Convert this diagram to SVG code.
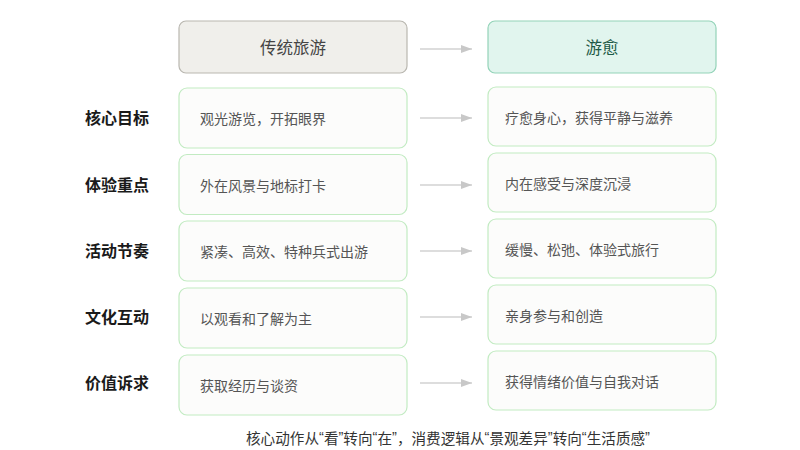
<svg xmlns="http://www.w3.org/2000/svg" width="800" height="450" viewBox="0 0 800 450">
<defs>
<marker id="ah" markerWidth="12" markerHeight="10" refX="11" refY="5" orient="auto" markerUnits="userSpaceOnUse">
<path d="M0,1 L11,5 L0,9 Z" fill="#c8c8c8"/>
</marker>
<style>
text{font-family:"Noto Sans CJK SC","Noto Sans",sans-serif}
.hl{fill:#f0efeb;stroke:#b9b7b0;stroke-width:1.2}
.hr{fill:#e1f5ee;stroke:#93d3b8;stroke-width:1.2}
.box{fill:#fcfcfb;stroke:#c2ebc2;stroke-width:1.2}
.ht{font-size:16.5px;text-anchor:middle;dominant-baseline:central}
.lab{font-size:16px;font-weight:700;fill:#1a1a1a;dominant-baseline:central}
.bt{font-size:14px;fill:#555;dominant-baseline:central}
.conn line{stroke:#d2d2d2;stroke-width:1.3;marker-end:url(#ah)}
.foot{font-size:14.6px;fill:#333;text-anchor:middle;dominant-baseline:central}
.q{font-family:"Liberation Sans",sans-serif}
</style>
</defs>
<rect width="800" height="450" fill="#ffffff"/>
<g id="h-left"><rect class="hl" x="179" y="21" width="228" height="52" rx="7"/><text class="ht" x="293" y="47" fill="#444">传统旅游</text></g>
<g id="h-right"><rect class="hr" x="488" y="21" width="228" height="52" rx="7"/><text class="ht" x="602" y="47" fill="#1d5a46">游愈</text></g>
<g id="labels">
<text class="lab" x="85" y="117">核心目标</text>
<text class="lab" x="85" y="184">体验重点</text>
<text class="lab" x="85" y="250">活动节奏</text>
<text class="lab" x="85" y="316">文化互动</text>
<text class="lab" x="85" y="382">价值诉求</text>
</g>
<g id="l1"><rect class="box" x="179" y="88" width="228" height="60" rx="8"/><text class="bt" x="200" y="118">观光游览，开拓眼界</text></g>
<g id="l2"><rect class="box" x="179" y="154.5" width="228" height="60" rx="8"/><text class="bt" x="200" y="184.5">外在风景与地标打卡</text></g>
<g id="l3"><rect class="box" x="179" y="221" width="228" height="60" rx="8"/><text class="bt" x="200" y="251">紧凑、高效、特种兵式出游</text></g>
<g id="l4"><rect class="box" x="179" y="288" width="228" height="60" rx="8"/><text class="bt" x="200" y="318">以观看和了解为主</text></g>
<g id="l5"><rect class="box" x="179" y="355" width="228" height="60" rx="8"/><text class="bt" x="200" y="385">获取经历与谈资</text></g>
<g id="r1"><rect class="box" x="488" y="87" width="228" height="59" rx="8"/><text class="bt" x="505" y="117">疗愈身心，获得平静与滋养</text></g>
<g id="r2"><rect class="box" x="488" y="153" width="228" height="59" rx="8"/><text class="bt" x="505" y="183">内在感受与深度沉浸</text></g>
<g id="r3"><rect class="box" x="488" y="219" width="228" height="59" rx="8"/><text class="bt" x="505" y="249">缓慢、松弛、体验式旅行</text></g>
<g id="r4"><rect class="box" x="488" y="285" width="228" height="59" rx="8"/><text class="bt" x="505" y="315">亲身参与和创造</text></g>
<g id="r5"><rect class="box" x="488" y="351" width="228" height="59" rx="8"/><text class="bt" x="505" y="381">获得情绪价值与自我对话</text></g>
<g class="conn" id="connectors">
<line x1="420" y1="49" x2="472" y2="49"/>
<line x1="420" y1="118" x2="472" y2="118"/>
<line x1="420" y1="185" x2="472" y2="185"/>
<line x1="420" y1="251" x2="472" y2="251"/>
<line x1="420" y1="317" x2="472" y2="317"/>
<line x1="420" y1="383" x2="472" y2="383"/>
</g>
<text class="foot" x="448" y="437">核心动作从<tspan class="q">“</tspan>看<tspan class="q">”</tspan>转向<tspan class="q">“</tspan>在<tspan class="q">”</tspan>，消费逻辑从<tspan class="q">“</tspan>景观差异<tspan class="q">”</tspan>转向<tspan class="q">“</tspan>生活质感<tspan class="q">”</tspan></text>
</svg>
